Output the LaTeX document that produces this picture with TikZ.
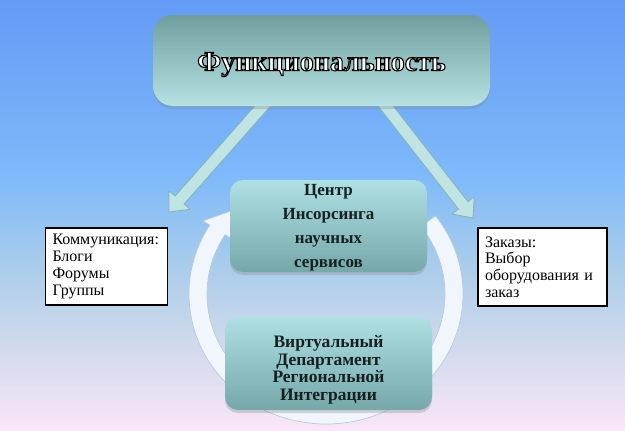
\documentclass[tikz,border=0pt]{standalone}
\usepackage{fontspec}
\setmainfont{Liberation Serif}
\usetikzlibrary{calc,shadows}

\definecolor{bgA}{RGB}{100,155,245}
\definecolor{bgB}{RGB}{125,185,250}
\definecolor{bgC}{RGB}{170,205,235}
\definecolor{bgD}{RGB}{200,215,235}
\definecolor{bgE}{RGB}{250,230,248}
\definecolor{titleTop}{RGB}{112,158,158}
\definecolor{titleBot}{RGB}{182,226,226}
\definecolor{boxTop}{RGB}{174,224,228}
\definecolor{boxBot}{RGB}{118,168,170}
\definecolor{arrFill}{RGB}{192,228,228}
\definecolor{arrEdge}{RGB}{135,178,182}
\definecolor{ringFill}{RGB}{240,246,251}
\definecolor{ringEdge}{RGB}{185,202,220}
\definecolor{txtDark}{RGB}{22,32,32}

\pgfdeclareverticalshading{bgshade}{100bp}{color(0bp)=(bgE); color(25bp)=(bgE); color(37bp)=(bgD); color(44bp)=(bgC); color(55bp)=(bgB); color(75bp)=(bgA); color(100bp)=(bgA)}

\newcommand{\blockarr}[3]{% #1 start, #2 tip, #3 head base name
  \coordinate (#3) at ($(#2)!16pt!(#1)$);
  \draw[barrow] ($(#1)!6pt!90:(#2)$) -- ($(#3)!6pt!-90:(#1)$) -- ($(#3)!14pt!-90:(#1)$)
     -- (#2) -- ($(#3)!14pt!90:(#1)$) -- ($(#3)!6pt!90:(#1)$) -- ($(#1)!6pt!-90:(#2)$) -- cycle;
}
\newcommand{\lowered}[2]{\raisebox{-#1}[\height][\depth]{\begin{tabular}{@{}c@{}}#2\end{tabular}}}
\newcommand{\squeezed}[2]{\raisebox{-#1}[38pt][38pt]{\begin{tabular}{@{}c@{}}#2\end{tabular}}}
\newcommand{\outlinedtext}[1]{\special{pdf:literal direct 2 Tr 1.1 w 0 0 0 RG}#1\special{pdf:literal direct 0 Tr}}

\begin{document}
\begin{tikzpicture}[x=1pt,y=-1pt,
  barrow/.style={fill=arrFill, draw=arrEdge, line width=0.8pt, line join=miter},
  titlebox/.style={rounded corners=20pt, minimum width=337pt, minimum height=91pt,
     top color=titleTop, bottom color=titleBot, draw=none,
     drop shadow={shadow xshift=0pt, shadow yshift=-3pt, opacity=0.3}},
  titletext/.style={font=\bfseries\fontsize{28}{30}\selectfont, inner sep=0pt, text=white},
  cbox/.style={rounded corners=13pt, align=center, draw=none, inner ysep=0pt,
     font=\bfseries\fontsize{17}{24}\selectfont, text=txtDark,
     top color=boxTop, bottom color=boxBot,
     drop shadow={shadow xshift=0pt, shadow yshift=-3pt, opacity=0.3}},
  sidebox/.style={fill=white, draw=black, line width=1.3pt, align=left,
     inner xsep=7pt, inner ysep=2pt, font=\fontsize{16}{16.8}\selectfont, text=black},
  ring/.style={fill=ringFill, draw=ringEdge, line width=0.7pt}
]
\useasboundingbox (0,0) rectangle (625,431);
\shade[shading=bgshade] (0,0) rectangle (625,431);

% circular arrow
\coordinate (rc) at (326,294);
\path[ring] ($(rc)+(-37:137 and 130)$) arc[start angle=-37, end angle=212, x radius=137, y radius=130]
  -- ($(rc)+(212:145 and 138)$) -- ($(rc)+(224:128 and 121)$) -- ($(rc)+(212:111 and 104)$)
  -- ($(rc)+(212:119 and 112)$) arc[start angle=212, end angle=-37, x radius=119, y radius=112] -- cycle;

% block arrows
\coordinate (ls) at (268,100);
\coordinate (lt) at (169,212);
\coordinate (rs) at (381,100);
\coordinate (rt) at (473,218);
\blockarr{ls}{lt}{lh}
\blockarr{rs}{rt}{rh}

% title
\node[titlebox] (title) at (321.5,60.5) {};
\node[titletext] (ttx) at ($(title.center)+(0,4)$) {\outlinedtext{Функциональность}};

% centre boxes
\node[cbox, minimum width=197pt, minimum height=92pt]
  (center) at (328.5,226) {\squeezed{5pt}{Центр\\Инсорсинга\\научных\\сервисов}};
\node[cbox, minimum width=207pt, minimum height=93pt,
  font=\bfseries\fontsize{17.5}{17.5}\selectfont]
  (virt) at (328.5,363.5) {\lowered{7pt}{Виртуальный\\Департамент\\Региональной\\Интеграции}};

% side boxes
\node[sidebox, text width=108pt, minimum height=77pt] (comm) at (106.5,266.5)
  {Коммуникация:\\Блоги\\Форумы\\Группы};
\node[sidebox, text width=115pt, minimum height=78pt] (orders) at (542.5,267)
  {Заказы:\\Выбор\\оборудования и\\заказ};
\end{tikzpicture}
\end{document}
